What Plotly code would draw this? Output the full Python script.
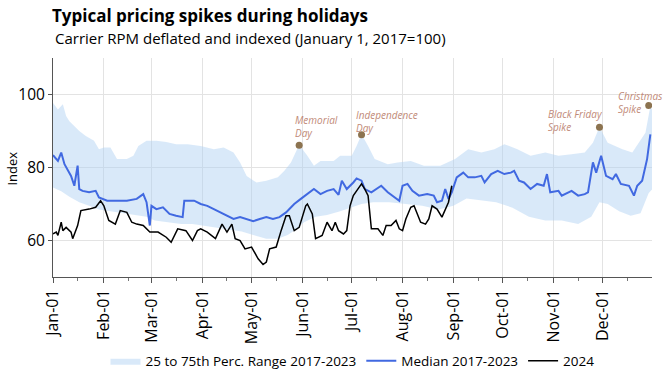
import pandas as pd
import plotly.graph_objects as go

BASE = pd.Timestamp("2024-01-01")

# ---- data (day offsets from Jan 1, values of index) ----
median_days = [0, 3, 5, 7, 11, 13, 15, 16, 18, 22, 26, 28, 33, 39, 45, 51, 55, 57, 59, 60, 63, 67, 71, 75, 79, 80,
               86, 90, 94, 98, 102, 106, 110, 114, 118, 122, 126, 130, 134, 138, 142, 147, 151, 155, 159, 163, 167,
               171, 174, 176, 179, 183, 185, 188, 190, 194, 200, 204, 208, 211, 213, 216, 219, 223, 228, 232, 234,
               237, 239, 241, 243, 246, 250, 253, 257, 261, 263, 267, 271, 275, 279, 281, 284, 287, 291, 295, 299,
               301, 303, 308, 310, 316, 320, 324, 326, 329, 331, 334, 337, 341, 343, 346, 351, 354, 356, 359, 362, 364]
median_vals = [83.4, 81.8, 84.1, 80.9, 77.7, 75.0, 80.5, 74.1, 73.6, 73.2, 73.6, 71.8, 70.9, 70.9, 70.9, 71.4, 72.7,
               70.5, 64.1, 69.5, 68.6, 69.1, 67.3, 66.8, 66.4, 70.9, 70.9, 70.0, 69.5, 68.6, 67.7, 66.8, 65.9, 66.4,
               65.9, 65.3, 65.9, 66.4, 65.9, 66.4, 67.7, 70.0, 71.4, 72.7, 74.1, 72.7, 73.6, 74.1, 72.5, 76.4, 74.1,
               75.9, 77.0, 76.4, 74.1, 73.2, 75.0, 73.2, 71.8, 70.9, 75.0, 75.5, 73.6, 72.3, 72.7, 72.3, 70.5, 70.9,
               74.1, 71.4, 73.2, 77.3, 78.6, 77.3, 77.3, 77.7, 75.9, 78.2, 79.1, 78.2, 78.6, 79.1, 76.4, 75.9, 74.1,
               75.5, 75.0, 78.2, 73.2, 73.6, 72.3, 73.6, 72.3, 72.7, 73.2, 81.4, 78.6, 83.2, 77.7, 76.8, 78.2, 75.5,
               75.0, 72.3, 75.0, 76.4, 82.3, 89.1]

upper_days = [0, 3, 6, 8, 10, 16, 20, 25, 28, 31, 35, 39, 45, 49, 52, 57, 63, 69, 75, 82, 90, 98, 104, 110, 114, 118,
              124, 130, 137, 141, 145, 149, 150, 155, 159, 163, 171, 175, 182, 185, 188, 192, 196, 204, 210, 218, 226,
              236, 245, 253, 261, 269, 275, 283, 291, 300, 308, 316, 324, 329, 333, 338, 347, 353, 357, 361, 364, 365]
upper_vals = [97.7, 95.9, 97.3, 94.1, 92.7, 90.0, 88.6, 87.3, 85.0, 85.5, 85.5, 82.3, 82.3, 83.2, 85.9, 87.3, 87.3,
              87.0, 86.4, 86.4, 85.9, 85.0, 85.5, 84.1, 81.4, 77.7, 75.9, 76.4, 77.3, 79.1, 81.4, 85.0, 86.2, 83.2,
              80.5, 81.8, 81.8, 83.2, 83.2, 85.9, 89.1, 85.9, 82.3, 80.9, 81.4, 81.8, 80.5, 80.5, 82.3, 85.0, 84.1,
              85.0, 86.4, 85.0, 83.2, 84.1, 83.2, 83.6, 84.1, 86.8, 91.1, 86.8, 85.0, 84.1, 86.8, 89.5, 96.8, 95.9]

lower_days = [0, 5, 10, 16, 22, 28, 35, 42, 50, 57, 62, 70, 78, 85, 92, 100, 108, 115, 122, 130, 137, 143, 148, 153,
              160, 167, 175, 182, 188, 195, 205, 215, 225, 235, 244, 252, 260, 270, 280, 290, 300, 310, 320, 328, 333,
              338, 345, 352, 358, 363, 365]
lower_vals = [74.5, 73.5, 72.0, 70.5, 69.5, 68.5, 68.0, 67.5, 67.0, 66.5, 65.5, 65.0, 64.5, 64.5, 64.0, 63.5, 63.0,
              62.5, 61.5, 60.5, 60.5, 61.5, 63.0, 65.0, 66.5, 67.0, 68.0, 69.0, 70.0, 70.5, 70.5, 70.0, 69.5, 68.5,
              69.5, 71.5, 71.0, 70.5, 69.0, 66.5, 65.5, 65.5, 64.5, 66.5, 70.5, 70.0, 68.0, 66.8, 67.5, 73.0, 74.0]

y2024_days = [0, 2, 3, 5, 6, 8, 11, 12, 15, 17, 22, 26, 29, 31, 34, 38, 41, 45, 48, 51, 55, 59, 64, 69, 72, 76, 81, 85,
              88, 90, 94, 99, 103, 106, 109, 111, 114, 117, 121, 125, 128, 130, 132, 136, 139, 142, 144, 147, 150, 154,
              155, 158, 160, 164, 167, 170, 172, 174, 177, 179, 181, 183, 185, 188, 190, 192, 194, 198, 201, 203, 206,
              209, 211, 213, 215, 218, 220, 222, 224, 227, 229, 231, 234, 237, 239, 241, 243]
y2024_vals = [61.8, 62.3, 61.4, 65.0, 62.7, 63.6, 62.3, 60.5, 64.1, 68.2, 68.6, 69.1, 70.9, 69.5, 65.5, 64.5, 68.2,
              67.7, 65.0, 64.5, 64.1, 62.3, 62.3, 60.9, 59.5, 63.2, 62.7, 60.0, 62.7, 63.2, 62.3, 60.5, 64.5, 62.3,
              64.5, 60.5, 60.0, 57.7, 58.2, 55.0, 53.4, 54.1, 57.7, 58.2, 62.7, 66.8, 66.8, 62.7, 63.6, 69.5, 70.0,
              67.3, 60.5, 61.4, 65.0, 62.7, 65.0, 62.7, 61.8, 62.7, 69.5, 72.3, 73.6, 75.5, 74.1, 72.3, 63.2, 63.2,
              61.4, 64.1, 64.1, 65.5, 63.2, 62.7, 65.9, 69.1, 69.5, 67.3, 65.0, 64.5, 65.9, 69.5, 68.6, 66.4, 68.6,
              70.5, 75.0]

holiday_labels = ["Memorial<br>Day", "Independence<br>Day", "Black Friday<br>Spike", "Christmas<br>Spike"]
holiday_days = [150, 188, 333, 363]
holiday_vals = [86.1, 89.0, 91.0, 97.0]
label_xshift = [-6, -8, -53, -33]
label_yshift = [19, 13, 7, 3]

month_ticks = ["2024-%02d-01" % m for m in range(1, 13)]
month_labels = ["Jan-01", "Feb-01", "Mar-01", "Apr-01", "May-01", "Jun-01",
                "Jul-01", "Aug-01", "Sep-01", "Oct-01", "Nov-01", "Dec-01"]
minor_ticks = ["2024-%02d-16" % m for m in range(1, 13)]


def to_dates(days):
    return BASE + pd.to_timedelta(days, unit="D")


FONT = "Open Sans, Lato, sans-serif"
BAND = "rgba(176,210,242,0.48)"

fig = go.Figure()
fig.add_trace(go.Scatter(x=to_dates(lower_days), y=lower_vals, mode="lines",
                         line=dict(width=0, color=BAND), showlegend=False, hoverinfo="skip"))
fig.add_trace(go.Scatter(x=to_dates(upper_days), y=upper_vals, mode="lines", fill="tonexty",
                         fillcolor=BAND, line=dict(width=0, color=BAND),
                         name="25 to 75th Perc. Range 2017-2023"))
fig.add_trace(go.Scatter(x=to_dates(median_days), y=median_vals, mode="lines",
                         line=dict(color="royalblue", width=2), name="Median 2017-2023"))
fig.add_trace(go.Scatter(x=to_dates(y2024_days), y=y2024_vals, mode="lines",
                         line=dict(color="black", width=1.5), name="2024"))
fig.add_trace(go.Scatter(x=to_dates(holiday_days), y=holiday_vals, mode="markers",
                         marker=dict(color="#8c7350", size=7), showlegend=False))

hd = to_dates(holiday_days)
for i, lab in enumerate(holiday_labels):
    fig.add_annotation(x=hd[i], y=holiday_vals[i], text="<i>" + lab + "</i>", showarrow=False,
                       xanchor="left", yanchor="middle", align="left",
                       xshift=label_xshift[i], yshift=label_yshift[i],
                       font=dict(family=FONT, size=10, color="#bf8a78"))

fig.add_annotation(xref="paper", yref="paper", x=-0.005, y=1.196, xanchor="left", yanchor="middle",
                   text="<b>Typical pricing spikes during holidays</b>", showarrow=False,
                   font=dict(family=FONT, size=17, color="black"))
fig.add_annotation(xref="paper", yref="paper", x=0.0, y=1.091, xanchor="left", yanchor="middle",
                   text="Carrier RPM deflated and indexed (January 1, 2017=100)", showarrow=False,
                   font=dict(family=FONT, size=15, color="black"))
fig.add_annotation(xref="paper", yref="paper", x=-0.0676, y=0.493, xanchor="center", yanchor="middle",
                   text="Index", textangle=-90, showarrow=False,
                   font=dict(family=FONT, size=13, color="black"))

fig.update_layout(
    width=672, height=378,
    margin=dict(l=53, r=20, t=58, b=101),
    paper_bgcolor="white", plot_bgcolor="white",
    font=dict(family=FONT, color="black"),
    hovermode=False,
    showlegend=True,
    legend=dict(orientation="h", xref="paper", x=0.5, xanchor="center",
                yref="container", y=0.045, yanchor="middle",
                traceorder="normal", font=dict(family=FONT, size=13.5), bgcolor="rgba(0,0,0,0)"),
    xaxis=dict(range=["2024-01-01", "2024-12-31"], tickmode="array", tickvals=month_ticks,
               ticktext=month_labels, tickangle=-90, tickfont=dict(size=16, family=FONT),
               showgrid=True, gridcolor="#e3e3e3", gridwidth=1, automargin=False,
               showline=True, linecolor="#555", linewidth=1, ticks="outside", ticklen=5, tickcolor="#555",
               minor=dict(tickvals=minor_ticks, ticks="outside", ticklen=3, tickcolor="#777", showgrid=False),
               zeroline=False),
    yaxis=dict(range=[50, 110], tickvals=[60, 80, 100], tickfont=dict(size=15.5, family=FONT),
               showgrid=True, gridcolor="#e3e3e3", gridwidth=1, automargin=False,
               showline=True, linecolor="#555", linewidth=1, ticks="outside", ticklen=4, tickcolor="#555",
               zeroline=False),
)

fig.write_html("out.html", config={"displayModeBar": False, "staticPlot": True},
               post_script="document.body.style.margin='0';"
                           "document.documentElement.style.overflow='hidden';")
